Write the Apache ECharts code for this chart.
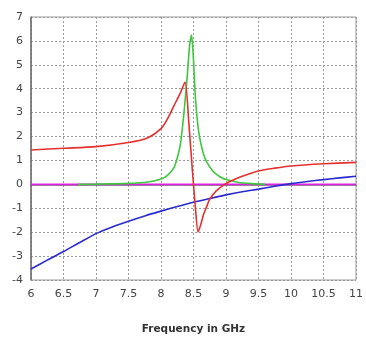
<!DOCTYPE html>
<html>
<head>
<meta charset="utf-8">
<script src="https://cdn.jsdelivr.net/npm/echarts@6/dist/echarts.min.js"></script>
<style>
  html, body { margin: 0; padding: 0; background: #fff; }
  #chart { width: 366px; height: 340px; }
</style>
</head>
<body>
<div id="chart"></div>
<script>
// values (frequency in GHz)
const redFreq = [6.0, 6.5, 7.0, 7.5, 7.8, 8.0, 8.1, 8.2, 8.3, 8.37, 8.43, 8.48, 8.5, 8.53, 8.57, 8.61, 8.65, 8.7, 8.75, 8.85, 8.98, 9.1, 9.25, 9.5, 9.75, 10.0, 10.5, 11.0];
const redVals = [1.44, 1.51, 1.58, 1.75, 1.95, 2.33, 2.74, 3.29, 3.84, 4.28, 2.5, 0.68, 0.0, -1.0, -1.99, -1.7, -1.3, -0.95, -0.62, -0.27, 0.0, 0.17, 0.34, 0.56, 0.68, 0.77, 0.86, 0.92];

const greenFreq = [6.72, 7.0, 7.5, 7.8, 8.0, 8.1, 8.2, 8.25, 8.3, 8.35, 8.4, 8.44, 8.47, 8.5, 8.53, 8.58, 8.65, 8.7, 8.8, 8.9, 9.0, 9.2, 9.4, 9.6];
const greenVals = [0.0, 0.01, 0.04, 0.1, 0.22, 0.38, 0.7, 1.1, 1.7, 2.9, 4.4, 5.8, 6.24, 5.2, 3.6, 2.2, 1.3, 0.95, 0.55, 0.33, 0.2, 0.08, 0.03, 0.0];

const blueFreq = [6.0, 6.25, 6.5, 6.75, 7.0, 7.25, 7.5, 7.75, 8.0, 8.25, 8.5, 8.75, 9.0, 9.25, 9.5, 9.75, 10.0, 10.25, 10.5, 10.75, 11.0];
const blueVals = [-3.54, -3.17, -2.81, -2.43, -2.06, -1.78, -1.54, -1.32, -1.12, -0.93, -0.75, -0.59, -0.44, -0.31, -0.2, -0.08, 0.03, 0.12, 0.2, 0.27, 0.34];

const zeroFreq = [6.0, 11.0];
const zeroVals = [0, 0];

const xTicks = [6, 6.5, 7, 7.5, 8, 8.5, 9, 9.5, 10, 10.5, 11];
const yTicks = [-4, -3, -2, -1, 0, 1, 2, 3, 4, 5, 6, 7];

const zip = (xs, ys) => xs.map((x, i) => [x, ys[i]]);

const chart = echarts.init(document.getElementById("chart"));

const lineSeries = (data, color, width) => ({
  type: "line",
  data,
  showSymbol: false,
  smooth: 0.25,
  lineStyle: { color, width: width || 1.6 },
  animation: false,
});

chart.setOption({
  animation: false,
  grid: {
    left: 31, right: 4, top: 17, bottom: 57,
    show: true, borderColor: "#9a9a9a", borderWidth: 1,
  },
  xAxis: {
    type: "value",
    min: xTicks[0],
    max: xTicks[xTicks.length - 1],
    interval: 0.5,
    name: "Frequency in GHz",
    nameLocation: "middle",
    nameGap: 44,
    nameTextStyle: { fontFamily: "DejaVu Sans", fontSize: 10.5, fontWeight: "bold", color: "#333" },
    axisLine: { lineStyle: { color: "#6e6e6e", width: 1.5 } },
    axisTick: { show: false },
    axisLabel: { fontFamily: "DejaVu Sans", fontSize: 11, color: "#444", margin: 9 },
    splitLine: { show: true, lineStyle: { color: "#9a9a9a", type: [2, 2], width: 1 } },
  },
  yAxis: {
    type: "value",
    min: yTicks[0],
    max: yTicks[yTicks.length - 1],
    interval: 1,
    axisLine: { show: true, lineStyle: { color: "#6e6e6e", width: 1.5 } },
    axisTick: { show: false },
    axisLabel: { fontFamily: "DejaVu Sans", fontSize: 11, color: "#444", margin: 8 },
    splitLine: { show: true, lineStyle: { color: "#9a9a9a", type: [2, 2], width: 1 } },
  },
  series: [
    lineSeries(zip(zeroFreq, zeroVals), "#e020e0", 1.8),
    lineSeries(zip(blueFreq, blueVals), "#2a2ad0"),
    lineSeries(zip(greenFreq, greenVals), "#3cc83c"),
    lineSeries(zip(redFreq, redVals), "#e63030"),
  ],
});
</script>
</body>
</html>
